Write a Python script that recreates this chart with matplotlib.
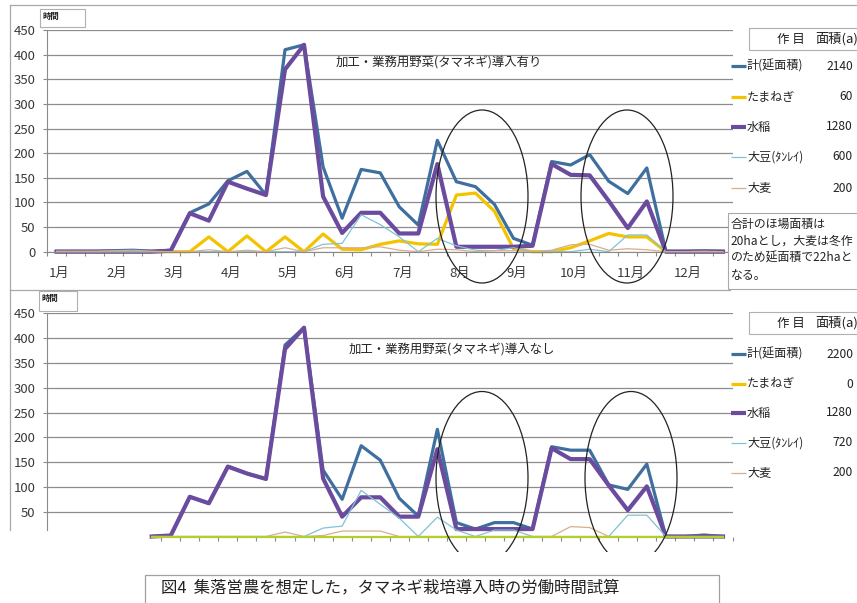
import matplotlib
matplotlib.use('Agg')
import matplotlib.pyplot as plt
from matplotlib.patches import Ellipse, Rectangle
import numpy as np

plt.rcParams['font.family'] = ['Noto Sans CJK JP', 'DejaVu Sans']

# 36 periods (上・中・下旬 x 12 months)
months = ['1月', '2月', '3月', '4月', '5月', '6月', '7月', '8月', '9月', '10月', '11月', '12月']
series_names = ['計(延面積)', 'たまねぎ', '水稲', '大豆(ﾀﾝﾚｲ)', '大麦']
areas_top = ['2140', '60', '1280', '600', '200']
areas_bot = ['2200', '0', '1280', '720', '200']

# with onion
total_top = [1, 1, 1, 2, 3, 1, 3, 79, 97, 144, 163, 115, 410, 420, 172, 68, 167, 160,
             91, 54, 226, 142, 132, 96, 27, 13, 183, 176, 197, 143, 118, 170, 1, 1, 2, 1]
onion_top = [0, 0, 0, 0, 0, 0, 0, 0, 30, 0, 32, 0, 30, 0, 36, 5, 4, 15,
             22, 16, 15, 115, 119, 82, 6, 0, 0, 8, 22, 37, 30, 30, 0, 0, 0, 0]
rice_top = [0, 0, 0, 0, 0, 0, 2, 78, 63, 142, 128, 115, 370, 420, 112, 38, 79, 79,
            37, 37, 178, 10, 10, 10, 10, 12, 178, 156, 155, 103, 48, 102, 0, 0, 0, 0]
soy_top = [0, 0, 0, 0, 0, 0, 0, 0, 0, 0, 0, 0, 0, 0, 15, 17, 75, 55,
           30, 0, 27, 12, 3, 2, 8, 0, 0, 0, 5, 0, 34, 34, 0, 0, 0, 0]
barley_top = [1, 1, 1, 2, 3, 1, 0, 0, 4, 0, 3, 0, 8, 0, 8, 8, 8, 10,
              3, 0, 5, 4, 0, 2, 2, 0, 3, 14, 15, 3, 6, 4, 0, 0, 1, 0]

# without onion (lines start at the 6th period)
nan = None
total_bot = [nan] * 5 + [0, 2, 80, 67, 141, 127, 116, 386, 421, 134, 75, 183, 154,
                         77, 41, 216, 28, 15, 28, 28, 15, 181, 174, 174, 104, 95, 146, 0, 0, 3, 0]
onion_bot = [nan] * 5 + [0] * 31
rice_bot = [nan] * 5 + [0, 2, 80, 67, 141, 127, 116, 378, 421, 117, 40, 79, 79,
                        40, 40, 176, 15, 15, 15, 15, 15, 178, 156, 156, 103, 53, 101, 0, 0, 0, 0]
soy_bot = [nan] * 5 + [0, 0, 0, 0, 0, 0, 0, 0, 0, 17, 21, 93, 65,
                       37, 0, 39, 13, 0, 13, 13, 0, 0, 0, 0, 0, 43, 43, 0, 0, 0, 0]
barley_bot = [nan] * 5 + [0, 0, 0, 0, 0, 0, 0, 9, 0, 2, 11, 11, 11,
                          0, 0, 0, 0, 0, 0, 0, 0, 0, 20, 18, 0, 0, 0, 0, 0, 0, 0]

colors = ['#3f6f9f', '#f3c300', '#6b4b9e', '#7fc3d6', '#d8ae8a']
widths = [2.3, 2.3, 3.0, 0.9, 0.9]

W, H = 857, 603
fig = plt.figure(figsize=(W / 100, H / 100), dpi=100)


def px_axes(x0, y_top, x1, y_bot, **kw):
    return fig.add_axes([x0 / W, 1 - y_bot / H, (x1 - x0) / W, (y_bot - y_top) / H], **kw)


def draw_lines(ax, data, onion_color=None):
    x = np.arange(36)
    for k, (vals, c, lw) in enumerate(zip(data, colors, widths)):
        y = np.array([np.nan if v is None else v for v in vals], dtype=float)
        z = 2
        if k == 1 and onion_color:
            # flat zero line, drawn above the thin series like in the original
            c, lw, z = onion_color, 1.6, 2.6
        ax.plot(x, y, color=c, lw=lw, solid_joinstyle='round', clip_on=False, zorder=z)
    ax.set_xlim(-0.5, 35.5)
    ax.set_ylim(0, 450)
    ax.set_facecolor('none')
    for s in ['top', 'right']:
        ax.spines[s].set_visible(False)
    ax.spines['left'].set_color('#8a8a8a')
    ax.spines['bottom'].set_color('#8a8a8a')
    ax.yaxis.grid(True, color='#8c8c8c', lw=0.9)
    ax.set_axisbelow(True)
    ax.tick_params(axis='y', length=3.2, width=0.8, color='#8a8a8a',
                   labelsize=9.5, labelcolor='#3a3a3a', pad=5)
    ax.tick_params(axis='x', which='major', length=3, width=0.8, color='#8a8a8a')


# top chart
ax1 = px_axes(47, 30, 732.5, 251.7)
draw_lines(ax1, [total_top, onion_top, rice_top, soy_top, barley_top])
ax1.set_yticks(range(0, 451, 50))
ax1.set_xticks(np.arange(-0.5, 36, 1))
ax1.set_xticklabels([])
ax1.set_xticks(np.arange(0, 36, 3) + 0.15, labels=months, minor=True)
ax1.tick_params(axis='x', which='minor', length=0, pad=11, labelsize=9.5, labelcolor='#3a3a3a')

# bottom chart
ax2 = px_axes(47, 313.3, 732.5, 536.5)
draw_lines(ax2, [total_bot, onion_bot, rice_bot, soy_bot, barley_bot], onion_color='#b4cf2a')
ax2.set_yticks(range(50, 451, 50))
ax2.spines['bottom'].set_visible(False)
ax2.spines['left'].set_bounds(13, 450)
ax2.set_xticks(np.arange(5.5, 36, 1))
ax2.set_xticklabels([])

# overlay in pixel coordinates
ov = fig.add_axes([0, 0, 1, 1], zorder=10)
ov.set_xlim(0, W)
ov.set_ylim(H, 0)
ov.axis('off')
ov.patch.set_alpha(0)

frame = '#a8a8a8'
ov.plot([10, 10], [5, 290], color=frame, lw=0.9)
ov.plot([10, W], [5, 5], color=frame, lw=0.9)
ov.plot([10, 730], [290, 290], color=frame, lw=0.9)
ov.plot([10, 10], [290, 530], color=frame, lw=0.9)

# 時間 boxes
for (bx, by, bw, bh) in [(40, 9, 45, 18), (39, 291, 38, 20)]:
    ov.add_patch(Rectangle((bx, by), bw, bh, fill=False, ec='#b0b0b0', lw=0.8))
    ov.text(bx + 3, by + 7, '時間', fontsize=6, fontweight='bold', va='center', color='#222')

# titles
ov.text(336, 63, '加工・業務用野菜(タマネギ)導入有り', fontsize=8.9, va='center', color='#222')
ov.text(349, 350, '加工・業務用野菜(タマネギ)導入なし', fontsize=8.9, va='center', color='#222')

# ellipses
clip = Rectangle((0, 0), W, 552, transform=ov.transData)
for cx, cy in [(482, 196.5), (627, 196.5), (482, 478), (631, 478)]:
    e = Ellipse((cx, cy), 92, 173, fill=False, ec='#222222', lw=0.9)
    ov.add_patch(e)
    e.set_clip_path(clip)


def legend(y_hdr, rows, vals):
    ov.add_patch(Rectangle((749, y_hdr), 120, 22, fill=False, ec='#b0b0b0', lw=0.8))
    ov.text(777, y_hdr + 11, '作 目', fontsize=9, va='center', color='#222')
    ov.text(815, y_hdr + 11, '面積(a)', fontsize=9.5, va='center', color='#222')
    for y, name, v, c, lw in zip(rows, series_names, vals, colors, widths):
        ov.plot([731, 746], [y, y], color=c, lw=lw, solid_capstyle='butt')
        ov.text(747, y, name, fontsize=8.7, va='center', color='#222')
        ov.text(853, y, v, fontsize=8.7, va='center', ha='right', color='#222')


legend(28, [66, 97, 127, 157, 188], areas_top)
legend(312, [354, 384, 413, 443, 473], areas_bot)

# note box
ov.add_patch(Rectangle((728, 213), 140, 76, fc='white', ec='#a8a8a8', lw=0.8))
note = ['合計のほ場面積は', '20haとし，大麦は冬作', 'のため延面積で22haと', 'なる。']
for k, line in enumerate(note):
    ov.text(731, 224 + k * 17, line, fontsize=8.6, va='center', color='#222')

# caption
ov.add_patch(Rectangle((145, 575), 574, 40, fill=False, ec='#a0a0a0', lw=0.9, clip_on=False))
ov.text(161, 588, '図4  集落営農を想定した，タマネギ栽培導入時の労働時間試算',
        fontsize=11.8, va='center', color='#222')

fig.savefig('out.png', dpi=100)
